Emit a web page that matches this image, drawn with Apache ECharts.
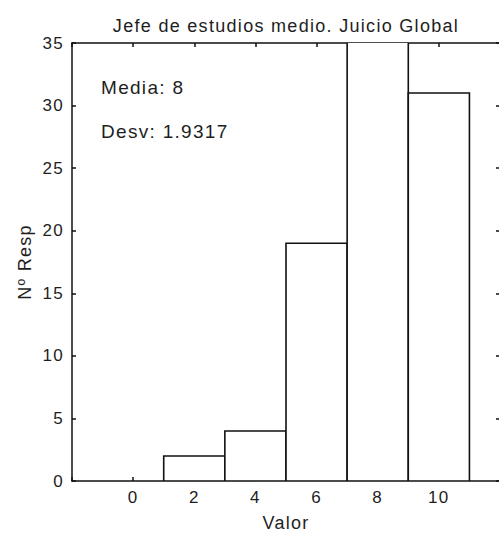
<!DOCTYPE html>
<html>
<head>
<meta charset="utf-8">
<script src="https://cdn.jsdelivr.net/npm/echarts@6/dist/echarts.min.js"></script>
<style>
html,body{margin:0;padding:0;background:#fff}
#c{width:499px;height:537px}
#c svg text{letter-spacing:1.3px}
</style>
</head>
<body>
<div id="c"></div>
<script>
const categories = [0, 2, 4, 6, 8, 10];
const counts = [0, 2, 4, 19, 36, 31];
const xTicks = [0, 2, 4, 6, 8, 10];
const yTicks = [0, 5, 10, 15, 20, 25, 30, 35];
const titleText = 'Jefe de estudios medio. Juicio Global';
const statsLines = ['Media: 8', 'Desv: 1.9317'];
const binHalfWidth = 1;

const chart = echarts.init(document.getElementById('c'), null, {renderer: 'svg'});
const font = 'Liberation Sans, Arial, sans-serif';
const txt = '#1e1e1e';
const fs = 17;
const axisLineStyle = {color: '#111', width: 1.5};
const data = categories.map((c, i) => [c, counts[i]]);

chart.setOption({
  animation: false,
  backgroundColor: '#fff',
  title: {
    text: titleText, left: 281, top: 12, textAlign: 'center',
    textStyle: {fontFamily: font, fontSize: 18, fontWeight: 'normal', color: txt}
  },
  grid: {left: 72, top: 43, right: -1, bottom: 56, outerBoundsMode: 'none', containLabel: false},
  xAxis: [{
    type: 'value', min: -2, max: 12, interval: 2, position: 'bottom',
    name: 'Valor', nameLocation: 'middle', nameGap: 33,
    nameTextStyle: {fontFamily: font, fontSize: 18, color: txt},
    axisLine: {show: true, onZero: false, lineStyle: axisLineStyle},
    axisTick: {show: true, inside: true, length: 4, lineStyle: axisLineStyle},
    axisLabel: {fontFamily: font, fontSize: fs, color: txt, margin: 8,
      formatter: v => xTicks.includes(v) ? String(v) : ''},
    splitLine: {show: false}
  }, {
    type: 'value', min: -2, max: 12, interval: 2, position: 'top',
    axisLine: {show: true, onZero: false, lineStyle: axisLineStyle},
    axisTick: {show: true, inside: true, length: 4, lineStyle: axisLineStyle},
    axisLabel: {show: false}, splitLine: {show: false}
  }],
  yAxis: [{
    type: 'value', min: 0, max: 35, interval: 5, position: 'left',
    name: 'Nº Resp', nameLocation: 'middle', nameGap: 32, nameRotate: 90,
    nameTextStyle: {fontFamily: font, fontSize: 18, color: txt},
    axisLine: {show: true, onZero: false, lineStyle: axisLineStyle},
    axisTick: {show: true, inside: true, length: 4, lineStyle: axisLineStyle},
    axisLabel: {fontFamily: font, fontSize: fs, color: txt, margin: 8,
      formatter: v => yTicks.includes(v) ? String(v) : ''},
    splitLine: {show: false}
  }, {
    type: 'value', min: 0, max: 35, interval: 5, position: 'right',
    axisLine: {show: true, onZero: false, lineStyle: axisLineStyle},
    axisTick: {show: true, inside: true, length: 4, lineStyle: axisLineStyle},
    axisLabel: {show: false}, splitLine: {show: false}
  }],
  graphic: statsLines.map((t, i) => ({
    type: 'text', left: 101, top: 78 + i * 44,
    style: {text: t, font: '19px ' + font, fill: txt}
  })),
  series: [{
    type: 'custom',
    xAxisIndex: 0, yAxisIndex: 0,
    clip: true,
    data: data,
    renderItem: function (params, api) {
      const x = api.value(0), y = api.value(1);
      if (!y) return null;
      const p0 = api.coord([x - binHalfWidth, 0]);
      const p1 = api.coord([x + binHalfWidth, y]);
      const rect = echarts.graphic.clipRectByRect({
        x: p0[0], y: p1[1], width: p1[0] - p0[0], height: p0[1] - p1[1]
      }, {
        x: params.coordSys.x, y: params.coordSys.y - 1,
        width: params.coordSys.width, height: params.coordSys.height + 1
      });
      if (!rect) return null;
      return {
        type: 'rect', shape: rect,
        style: {fill: '#fff', stroke: '#111', lineWidth: 1.6}
      };
    }
  }]
});
</script>
</body>
</html>
